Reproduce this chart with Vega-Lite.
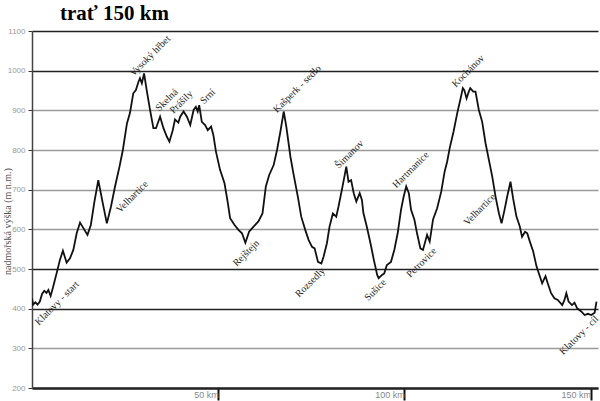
{
  "$schema": "https://vega.github.io/schema/vega-lite/v6.json",
  "autosize": {"type": "none"},
  "width": 566,
  "height": 357,
  "padding": {"left": 32, "top": 31, "right": 2, "bottom": 13},
  "background": "white",
  "title": {
    "text": "trať 150 km",
    "orient": "none",
    "anchor": "start",
    "align": "left",
    "dx": 28,
    "dy": -11,
    "baseline": "alphabetic",
    "font": "Liberation Serif",
    "fontSize": 21,
    "fontWeight": "bold",
    "color": "#000"
  },
  "config": {
    "view": {"stroke": null},
    "axis": {"labelFont": "Liberation Sans", "titleFont": "Liberation Serif"}
  },
  "datasets": {
    "profile": [
      {"km": 0.0, "elev": 425}, {"km": 0.3, "elev": 410}, {"km": 0.9, "elev": 416}, {"km": 1.5, "elev": 410},
      {"km": 2.1, "elev": 418}, {"km": 2.7, "elev": 437}, {"km": 3.3, "elev": 445}, {"km": 3.9, "elev": 440},
      {"km": 4.4, "elev": 447}, {"km": 5.0, "elev": 432}, {"km": 5.6, "elev": 452}, {"km": 6.6, "elev": 489},
      {"km": 7.5, "elev": 523}, {"km": 8.3, "elev": 546}, {"km": 9.3, "elev": 516}, {"km": 10.2, "elev": 527},
      {"km": 11.1, "elev": 548}, {"km": 12.0, "elev": 590}, {"km": 12.9, "elev": 617}, {"km": 13.8, "elev": 603},
      {"km": 14.9, "elev": 586}, {"km": 15.8, "elev": 611}, {"km": 16.7, "elev": 666}, {"km": 17.8, "elev": 724},
      {"km": 19.0, "elev": 666}, {"km": 20.1, "elev": 615}, {"km": 21.2, "elev": 657}, {"km": 22.3, "elev": 708},
      {"km": 23.5, "elev": 758}, {"km": 24.4, "elev": 800}, {"km": 25.5, "elev": 867}, {"km": 26.3, "elev": 893},
      {"km": 27.2, "elev": 943}, {"km": 27.9, "elev": 951}, {"km": 28.6, "elev": 972}, {"km": 29.0, "elev": 981},
      {"km": 29.5, "elev": 968}, {"km": 30.1, "elev": 993}, {"km": 30.8, "elev": 951}, {"km": 31.7, "elev": 901},
      {"km": 32.6, "elev": 855}, {"km": 33.3, "elev": 855}, {"km": 34.4, "elev": 884}, {"km": 35.3, "elev": 855},
      {"km": 36.2, "elev": 834}, {"km": 36.9, "elev": 821}, {"km": 37.8, "elev": 850}, {"km": 38.4, "elev": 877},
      {"km": 39.3, "elev": 869}, {"km": 39.8, "elev": 884}, {"km": 40.7, "elev": 897}, {"km": 41.6, "elev": 884},
      {"km": 42.5, "elev": 863}, {"km": 43.4, "elev": 901}, {"km": 44.0, "elev": 909}, {"km": 44.5, "elev": 897},
      {"km": 44.9, "elev": 913}, {"km": 45.6, "elev": 871}, {"km": 46.5, "elev": 863}, {"km": 47.2, "elev": 850},
      {"km": 48.1, "elev": 859}, {"km": 48.7, "elev": 838}, {"km": 49.4, "elev": 796}, {"km": 50.5, "elev": 750},
      {"km": 51.7, "elev": 716}, {"km": 52.6, "elev": 666}, {"km": 53.2, "elev": 628}, {"km": 54.4, "elev": 611},
      {"km": 55.5, "elev": 598}, {"km": 56.4, "elev": 590}, {"km": 57.3, "elev": 566}, {"km": 58.3, "elev": 594},
      {"km": 59.5, "elev": 607}, {"km": 60.8, "elev": 620}, {"km": 61.9, "elev": 640}, {"km": 62.8, "elev": 708},
      {"km": 63.7, "elev": 737}, {"km": 64.9, "elev": 762}, {"km": 65.8, "elev": 800}, {"km": 66.7, "elev": 846},
      {"km": 67.6, "elev": 897}, {"km": 68.3, "elev": 859}, {"km": 69.4, "elev": 783}, {"km": 70.2, "elev": 741},
      {"km": 71.4, "elev": 682}, {"km": 72.3, "elev": 632}, {"km": 73.4, "elev": 598}, {"km": 74.3, "elev": 573},
      {"km": 75.2, "elev": 556}, {"km": 75.9, "elev": 552}, {"km": 76.8, "elev": 518}, {"km": 77.7, "elev": 514},
      {"km": 78.3, "elev": 531}, {"km": 79.2, "elev": 565}, {"km": 79.9, "elev": 607}, {"km": 80.8, "elev": 640},
      {"km": 81.7, "elev": 632}, {"km": 82.3, "elev": 657}, {"km": 83.2, "elev": 699}, {"km": 83.9, "elev": 733},
      {"km": 84.4, "elev": 758}, {"km": 85.0, "elev": 720}, {"km": 85.7, "elev": 724}, {"km": 86.4, "elev": 691},
      {"km": 87.1, "elev": 670}, {"km": 88.0, "elev": 691}, {"km": 88.6, "elev": 674}, {"km": 89.0, "elev": 641},
      {"km": 89.9, "elev": 607}, {"km": 90.9, "elev": 565}, {"km": 91.8, "elev": 523}, {"km": 92.7, "elev": 485},
      {"km": 93.1, "elev": 477}, {"km": 94.0, "elev": 485}, {"km": 94.6, "elev": 489}, {"km": 95.3, "elev": 510},
      {"km": 96.4, "elev": 518}, {"km": 97.3, "elev": 548}, {"km": 98.2, "elev": 590}, {"km": 99.1, "elev": 649},
      {"km": 99.8, "elev": 682}, {"km": 100.5, "elev": 708}, {"km": 101.2, "elev": 691}, {"km": 101.8, "elev": 649},
      {"km": 102.7, "elev": 624}, {"km": 103.4, "elev": 590}, {"km": 104.3, "elev": 552}, {"km": 105.0, "elev": 548},
      {"km": 105.6, "elev": 569}, {"km": 106.1, "elev": 586}, {"km": 106.8, "elev": 569}, {"km": 107.7, "elev": 625},
      {"km": 108.8, "elev": 653}, {"km": 109.9, "elev": 695}, {"km": 110.8, "elev": 745}, {"km": 111.5, "elev": 771},
      {"km": 112.2, "elev": 806}, {"km": 113.2, "elev": 846}, {"km": 114.2, "elev": 893}, {"km": 115.1, "elev": 930},
      {"km": 115.7, "elev": 956}, {"km": 116.1, "elev": 951}, {"km": 116.7, "elev": 930}, {"km": 117.3, "elev": 947},
      {"km": 117.7, "elev": 956}, {"km": 118.5, "elev": 947}, {"km": 119.1, "elev": 947}, {"km": 120.0, "elev": 901},
      {"km": 120.9, "elev": 871}, {"km": 121.8, "elev": 817}, {"km": 122.7, "elev": 775}, {"km": 123.6, "elev": 733},
      {"km": 124.5, "elev": 682}, {"km": 125.4, "elev": 640}, {"km": 126.1, "elev": 615}, {"km": 126.9, "elev": 649},
      {"km": 127.6, "elev": 682}, {"km": 128.5, "elev": 720}, {"km": 129.2, "elev": 678}, {"km": 130.1, "elev": 632},
      {"km": 131.0, "elev": 607}, {"km": 131.6, "elev": 581}, {"km": 132.4, "elev": 594}, {"km": 133.0, "elev": 590},
      {"km": 133.7, "elev": 569}, {"km": 134.6, "elev": 544}, {"km": 135.5, "elev": 506}, {"km": 136.4, "elev": 481},
      {"km": 137.0, "elev": 464}, {"km": 137.9, "elev": 482}, {"km": 138.5, "elev": 464}, {"km": 139.4, "elev": 439},
      {"km": 140.3, "elev": 426}, {"km": 141.2, "elev": 422}, {"km": 142.4, "elev": 409}, {"km": 143.0, "elev": 422},
      {"km": 143.5, "elev": 439}, {"km": 144.1, "elev": 418}, {"km": 145.0, "elev": 409}, {"km": 145.7, "elev": 415},
      {"km": 146.4, "elev": 401}, {"km": 147.5, "elev": 393}, {"km": 148.4, "elev": 384}, {"km": 149.3, "elev": 387},
      {"km": 150.2, "elev": 384}, {"km": 151.1, "elev": 390}, {"km": 151.6, "elev": 418}
    ],
    "places": [
      {"km": 6.7, "elev": 414, "name": "Klatovy - start"},
      {"km": 26.9, "elev": 682, "name": "Velhartice"},
      {"km": 31.7, "elev": 1037, "name": "Vysoký hřbet"},
      {"km": 36.2, "elev": 926, "name": "Skelná"},
      {"km": 40.1, "elev": 921, "name": "Prášily"},
      {"km": 47.2, "elev": 935, "name": "Srní"},
      {"km": 57.5, "elev": 540, "name": "Rejštejn"},
      {"km": 71.2, "elev": 954, "name": "Kašperk - sedlo"},
      {"km": 74.7, "elev": 466, "name": "Rozsedly"},
      {"km": 85.2, "elev": 789, "name": "Šimanov"},
      {"km": 92.2, "elev": 447, "name": "Sušice"},
      {"km": 101.7, "elev": 750, "name": "Hartmanice"},
      {"km": 104.6, "elev": 516, "name": "Petrovice"},
      {"km": 117.1, "elev": 999, "name": "Kochánov"},
      {"km": 120.2, "elev": 650, "name": "Velhartice"},
      {"km": 146.9, "elev": 333, "name": "Klatovy - cíl"}
    ]
  },
  "encoding": {
    "x": {
      "field": "km", "type": "quantitative",
      "scale": {"domain": [0, 152], "nice": false, "zero": false},
      "axis": {
        "title": null,
        "values": [50, 100, 150],
        "labelExpr": "datum.value + ' km'",
        "grid": false,
        "domainColor": "#222",
        "domainWidth": 2.5,
        "tickColor": "#111",
        "tickWidth": 2,
        "tickSize": 12,
        "labelAlign": "right",
        "labelBaseline": "top",
        "labelDx": -4,
        "labelPadding": -10,
        "labelFontSize": 9,
        "labelColor": "#888",
        "labelOverlap": false
      }
    },
    "y": {
      "field": "elev", "type": "quantitative",
      "scale": {"domain": [200, 1100], "nice": false, "zero": false},
      "axis": {
        "title": "nadmořská výška (m n.m.)",
        "titleFontSize": 10,
        "titleFontWeight": "normal",
        "titleColor": "#555",
        "titleX": -20,
        "titleY": 190,
        "values": [200, 300, 400, 500, 600, 700, 800, 900, 1000, 1100],
        "format": "d",
        "labelOverlap": false,
        "grid": true,
        "gridColor": {
          "condition": {"test": "datum.value == 1100 || datum.value == 1000 || datum.value == 500 || datum.value == 400", "value": "#222"},
          "value": "#9a9a9a"
        },
        "gridWidth": 1.3,
        "domainColor": "#444",
        "domainWidth": 1.5,
        "tickColor": "#333",
        "tickSize": 4,
        "labelFontSize": 8,
        "labelColor": "#999",
        "labelPadding": 3
      }
    }
  },
  "layer": [
    {
      "data": {"name": "profile"},
      "mark": {"type": "line", "color": "#111", "strokeWidth": 1.8, "clip": true}
    },
    {
      "data": {"name": "places"},
      "mark": {"type": "text", "angle": -45, "align": "center", "baseline": "middle", "font": "Liberation Serif", "fontSize": 10, "color": "#222"},
      "encoding": {
        "text": {"field": "name", "type": "nominal"}
      }
    }
  ]
}
